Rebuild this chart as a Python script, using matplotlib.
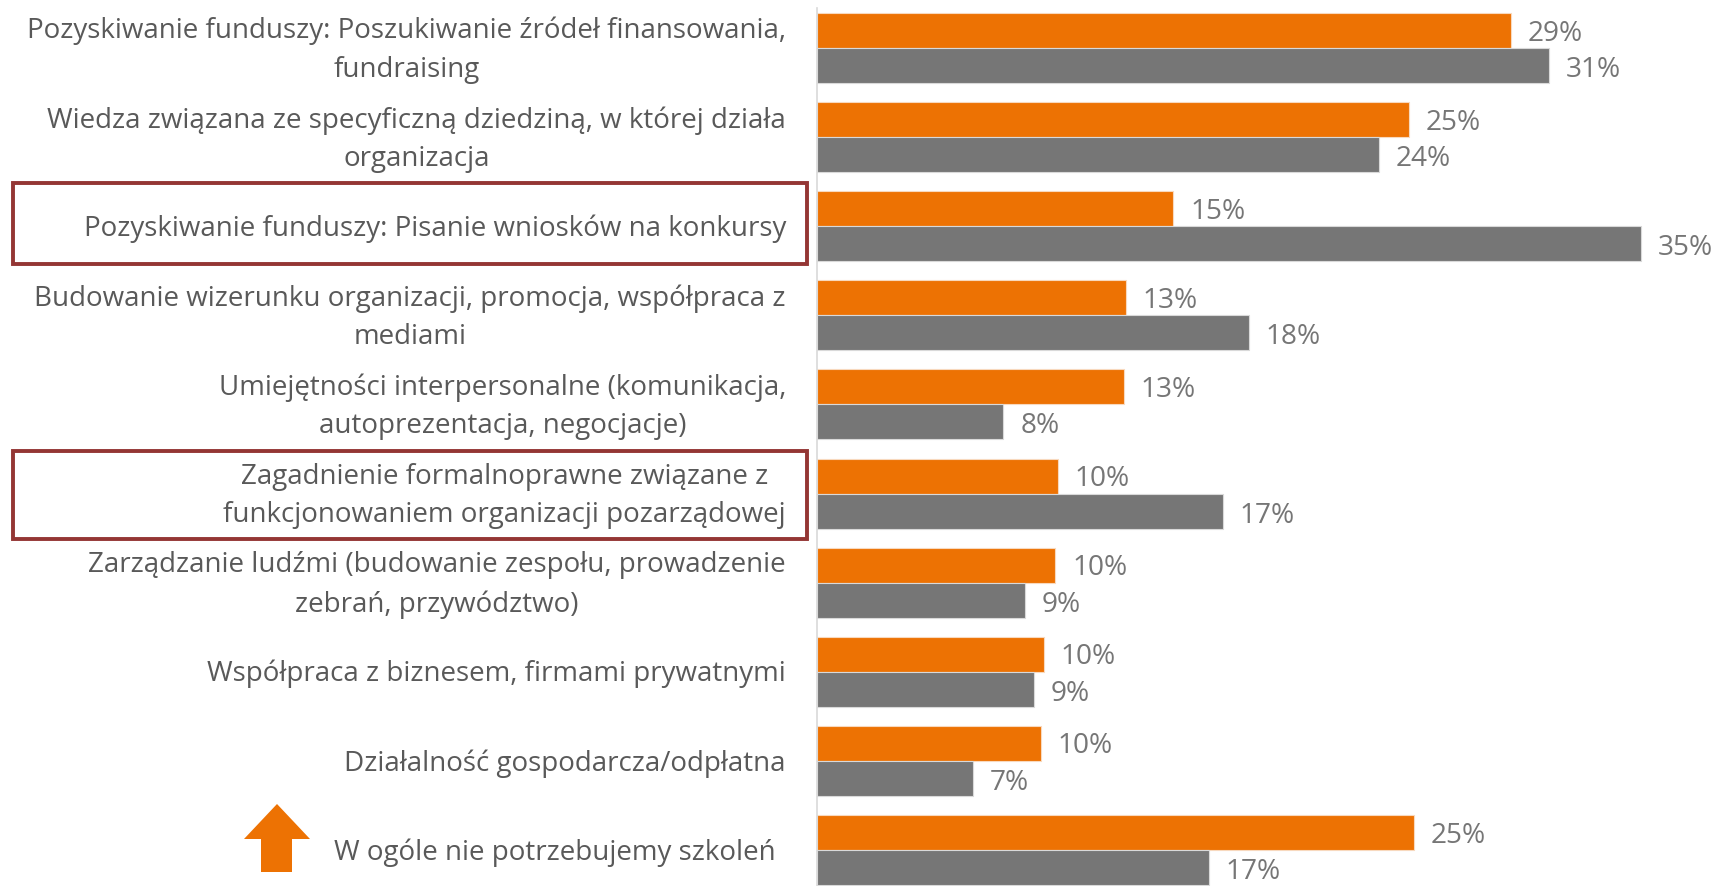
import matplotlib
matplotlib.use("Agg")
import matplotlib.pyplot as plt
from matplotlib.patches import Polygon, Rectangle
import numpy as np

categories = [
    "Pozyskiwanie funduszy: Poszukiwanie źródeł finansowania,\nfundraising",
    "Wiedza związana ze specyficzną dziedziną, w której działa\norganizacja",
    "Pozyskiwanie funduszy: Pisanie wniosków na konkursy",
    "Budowanie wizerunku organizacji, promocja, współpraca z\nmediami",
    "Umiejętności interpersonalne (komunikacja,\nautoprezentacja, negocjacje)",
    "Zagadnienie formalnoprawne związane z\nfunkcjonowaniem organizacji pozarządowej",
    "Zarządzanie ludźmi (budowanie zespołu, prowadzenie\nzebrań, przywództwo)",
    "Współpraca z biznesem, firmami prywatnymi",
    "Działalność gospodarcza/odpłatna",
    "W ogóle nie potrzebujemy szkoleń",
]
series_orange = [29.4, 25.1, 15.1, 13.1, 13.0, 10.2, 10.1, 9.6, 9.5, 25.3]
series_gray = [31.0, 23.8, 34.9, 18.3, 7.9, 17.2, 8.8, 9.2, 6.6, 16.6]

ORANGE = "#ED7203"
GRAY = "#767676"
LABEL_COLOR = "#595959"
VALUE_COLOR = "#767676"
BOX_COLOR = "#943634"

plt.rcParams['font.family'] = ['Open Sans', 'DejaVu Sans']

W, H = 1721, 887
fig = plt.figure(figsize=(W / 100, H / 100), dpi=100)
ax = fig.add_axes([817 / W, 0, 1 - 817 / W, 1 - 9 / H])

y = np.arange(len(categories))
h = 0.393
ax.barh(y - h / 2, series_orange, height=h, color=ORANGE, edgecolor="#F8D9BE", linewidth=0.8)
ax.barh(y + h / 2, series_gray, height=h, color=GRAY, edgecolor="#D9D9D9", linewidth=0.8)

ax.set_xlim(0, 38.3)
ax.set_ylim(9.404, -0.449)

for i in range(len(categories)):
    ax.annotate(f"{round(series_orange[i])}%", (series_orange[i], y[i] - h / 2),
                xytext=(12, -1.5), textcoords="offset points", va="center", ha="left",
                fontsize=20.2, color=VALUE_COLOR)
    ax.annotate(f"{round(series_gray[i])}%", (series_gray[i], y[i] + h / 2),
                xytext=(12, -2.5), textcoords="offset points", va="center", ha="left",
                fontsize=20.2, color=VALUE_COLOR)

for s in ["top", "right", "bottom"]:
    ax.spines[s].set_visible(False)
ax.spines["left"].set_color("#D9D9D9")
ax.spines["left"].set_linewidth(1.2)
ax.set_xticks([])
ax.set_yticks([])

# category labels
for i, c in enumerate(categories):
    off = -31 if i < len(categories) - 1 else -41
    ax.annotate(c, (0, y[i]), xycoords=("axes fraction", "data"),
                xytext=(off * 0.72, -1), textcoords="offset points",
                ha="right", va="center", multialignment="center",
                fontsize=20, color=LABEL_COLOR, linespacing=1.5)

# highlight boxes (figure pixel coordinates)
for (x0, y0, x1, y1) in [(13, 184, 807, 265), (13, 452, 807, 540)]:
    fig.patches.append(Rectangle((x0 / W, 1 - y1 / H), (x1 - x0) / W, (y1 - y0) / H,
                                 transform=fig.transFigure, fill=False,
                                 edgecolor=BOX_COLOR, linewidth=2.8))

# orange up arrow
pts = [(277, 805), (310, 840), (292, 840), (292, 873), (261, 873), (261, 840), (244, 840)]
fig.patches.append(Polygon([(px / W, 1 - py / H) for px, py in pts], closed=True,
                           transform=fig.transFigure, facecolor=ORANGE, edgecolor="none"))

fig.savefig("out.png", dpi=100)
